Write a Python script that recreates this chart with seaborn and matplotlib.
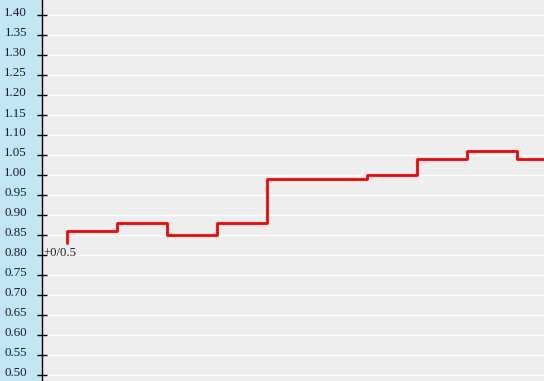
import matplotlib
matplotlib.use("Agg")
import matplotlib.pyplot as plt
import matplotlib.transforms as mtrans
import seaborn as sns
import pandas as pd
import numpy as np

# data
steps = [0, 1, 2, 3, 4, 5, 6, 7, 8, 9, 10]
values = [0.83, 0.86, 0.88, 0.85, 0.88, 0.99, 0.99, 1.00, 1.04, 1.06, 1.04]
ytick_vals = [round(0.50 + 0.05 * i, 2) for i in range(19)]
ytick_labels = [f"{v:.2f}" for v in ytick_vals]
note_text = "+0/0.5"

sns.set_theme(style="white")
plt.rcParams['font.family'] = ['Liberation Serif', 'DejaVu Serif']

df = pd.DataFrame({"step": steps, "value": values})

fig = plt.figure(figsize=(5.44, 3.81), dpi=100, facecolor="#c3e7f2")
ax = fig.add_axes([41.5 / 544, 0, 1 - 41.5 / 544, 1])
ax.set_facecolor("#eeeeee")

ax.set_ylim(0.485, 1.4375)
ax.set_xlim(-0.5, 9.54)
ax.set_yticks(ytick_vals)
ax.set_yticklabels(ytick_labels)
ax.yaxis.grid(True, color="white", linewidth=1.0)
ax.set_axisbelow(True)

sns.lineplot(data=df, x="step", y="value", ax=ax, color="#ff0000",
             linewidth=2.0, drawstyle="steps-pre", estimator=None)

ax.set_xticks([])
ax.set_xlabel("")
ax.set_ylabel("")
for s in ["top", "right", "bottom"]:
    ax.spines[s].set_visible(False)
ax.spines["left"].set_color("black")
ax.spines["left"].set_linewidth(1.0)
ax.tick_params(axis="y", direction="inout", length=7, width=1.0, color="black",
               labelsize=9.4, labelcolor="#1a1a2e", pad=7, left=True)

off = mtrans.ScaledTranslation(0, 3 / 100, fig.dpi_scale_trans)
for lab in ax.get_yticklabels():
    lab.set_transform(lab.get_transform() + off)

ax.text(-0.46, 0.7975, note_text, fontsize=9.2, color="#222222",
        ha="left", va="baseline")

fig.savefig("out.png", dpi=100, facecolor=fig.get_facecolor())
